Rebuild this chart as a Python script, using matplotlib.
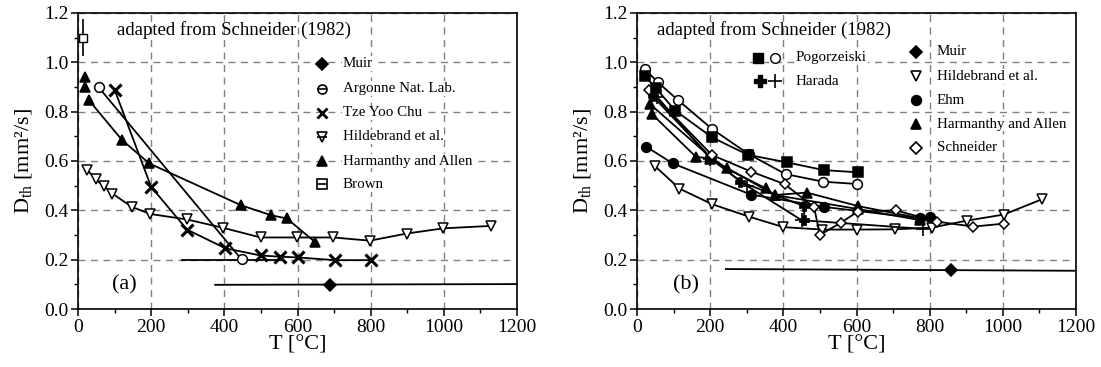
import matplotlib.pyplot as plt
from matplotlib.ticker import MultipleLocator

plt.rcParams["font.family"] = ["Liberation Serif", "DejaVu Serif"]
plt.rcParams["mathtext.fontset"] = "custom"
plt.rcParams["mathtext.rm"] = "Liberation Serif"

# -------------------------
# Panel (a) data
# -------------------------
a_muir_range = [375, 1200]
a_muir_range_y = [0.098, 0.101]
a_muir_x = [688]
a_muir_y = [0.097]

a_argonne_x = [57, 447]
a_argonne_y = [0.898, 0.201]
a_argonne_range = [284, 555]
a_argonne_range_y = [0.200, 0.200]

a_tze_x = [100, 200, 298, 403, 499, 552, 601, 702, 800]
a_tze_y = [0.889, 0.495, 0.322, 0.246, 0.217, 0.212, 0.209, 0.198, 0.198]

a_hild_x = [25, 48, 71, 94, 147, 198, 298, 397, 499, 598, 698, 798, 899, 999, 1130]
a_hild_y = [0.565, 0.525, 0.498, 0.468, 0.414, 0.385, 0.363, 0.329, 0.29,
            0.29, 0.29, 0.277, 0.306, 0.327, 0.337]

a_harm_single_x = [20, 20]
a_harm_single_y = [0.94, 0.90]
a_harm_x = [30, 121, 195, 445, 528, 571, 649]
a_harm_y = [0.846, 0.684, 0.59, 0.421, 0.38, 0.367, 0.27]

a_brown_x = [15]
a_brown_y = [1.10]
a_brown_err = [0.075]

a_legend_labels = ["Muir", "Argonne Nat. Lab.", "Tze Yoo Chu",
                   "Hildebrand et al.", "Harmanthy and Allen", "Brown"]
a_legend_y = [0.995, 0.893, 0.795, 0.698, 0.599, 0.505]

# -------------------------
# Panel (b) data
# -------------------------
b_pog_sq_x = [21, 52, 105, 205, 303, 411, 511, 605]
b_pog_sq_y = [0.945, 0.894, 0.804, 0.696, 0.625, 0.594, 0.563, 0.554]
b_pog_ci_x = [21, 57, 112, 205, 305, 406, 509, 600]
b_pog_ci_y = [0.973, 0.919, 0.847, 0.73, 0.628, 0.547, 0.516, 0.507]

b_harada_x = [43, 200, 282, 457, 457]
b_harada_y = [0.863, 0.617, 0.516, 0.417, 0.36]
b_harada2_x = [55, 200, 300, 450, 781]
b_harada2_y = [0.86, 0.61, 0.50, 0.36, 0.325]

b_schn_x = [32, 205, 312, 404, 484, 500, 557, 604, 707, 821, 919, 1003]
b_schn_y = [0.888, 0.624, 0.557, 0.506, 0.413, 0.30, 0.35, 0.395, 0.40,
            0.354, 0.334, 0.346]

b_harm1_x = [36, 200, 245, 352, 377, 464, 605, 774]
b_harm1_y = [0.83, 0.617, 0.57, 0.489, 0.462, 0.472, 0.417, 0.368]
b_harm2_x = [41, 161, 200, 377, 605, 774]
b_harm2_y = [0.79, 0.617, 0.61, 0.462, 0.405, 0.36]

b_ehm_x = [25, 98, 311, 511, 774, 801]
b_ehm_y = [0.658, 0.59, 0.464, 0.414, 0.367, 0.374]

b_hild_x = [50, 116, 205, 307, 400, 505, 602, 705, 806, 901, 1003, 1107]
b_hild_y = [0.578, 0.488, 0.425, 0.374, 0.332, 0.322, 0.322, 0.323, 0.33,
            0.358, 0.383, 0.445]

b_muir_range = [243, 1200]
b_muir_range_y = [0.162, 0.155]
b_muir_x = [858]
b_muir_y = [0.157]

b_legend_labels = ["Muir", "Hildebrand et al.", "Ehm",
                   "Harmanthy and Allen", "Schneider"]
b_legend_y = [1.042, 0.943, 0.846, 0.749, 0.653]

# -------------------------
# Figure
# -------------------------
fig = plt.figure(figsize=(11.01, 3.67), dpi=100)
ax_a = fig.add_axes([78 / 1101, 58 / 367, 439 / 1101, 296 / 367])
ax_b = fig.add_axes([637 / 1101, 58 / 367, 439 / 1101, 296 / 367])

LW = 1.3
MS = 6.5


def style_axes(ax):
    ax.set_xlim(0, 1200)
    ax.set_ylim(0, 1.2)
    ax.xaxis.set_major_locator(MultipleLocator(200))
    ax.xaxis.set_minor_locator(MultipleLocator(100))
    ax.yaxis.set_major_locator(MultipleLocator(0.2))
    ax.yaxis.set_minor_locator(MultipleLocator(0.1))
    ax.yaxis.set_major_formatter(lambda v, p: f"{v:.1f}")
    ax.tick_params(which="major", direction="out", length=5, width=1.1,
                   labelsize=14, pad=2)
    ax.tick_params(which="minor", direction="out", length=3, width=1.0)
    ax.grid(True, which="major", color="#808080", linestyle=(0, (5, 4)),
            linewidth=1.0)
    ax.set_axisbelow(True)
    for s in ax.spines.values():
        s.set_linewidth(1.2)
    ax.set_xlabel("T [°C]", fontsize=16, labelpad=0)
    ax.set_ylabel(r"D$_\mathregular{th}$ [mm²/s]", fontsize=16, labelpad=6)


def line(ax, x, y, marker, filled, ms=MS, mew=1.1, ls="-"):
    ax.plot(x, y, ls, color="black", linewidth=LW, marker=marker,
            markersize=ms, markeredgewidth=mew, markeredgecolor="black",
            markerfacecolor="black" if filled else "white", zorder=3)


# ---- panel (a)
style_axes(ax_a)
ax_a.plot(a_muir_range, a_muir_range_y, color="black", linewidth=LW)
line(ax_a, a_muir_x, a_muir_y, "D", True, ms=6, ls="none")
ax_a.plot(a_argonne_range, a_argonne_range_y, color="black", linewidth=LW)
line(ax_a, a_argonne_x, a_argonne_y, "o", False, ms=7, ls="none")
line(ax_a, a_tze_x, a_tze_y, "x", True, ms=8.5, mew=2.2)
line(ax_a, a_hild_x, a_hild_y, "v", False, ms=7)
line(ax_a, a_harm_single_x, a_harm_single_y, "^", True, ms=7, ls="none")
line(ax_a, a_harm_x, a_harm_y, "^", True, ms=7)
ax_a.errorbar(a_brown_x, a_brown_y, yerr=a_brown_err, fmt="s", color="black",
              markerfacecolor="white", markersize=6, elinewidth=1.2,
              capsize=0, zorder=3)

ax_a.text(107, 1.13, "adapted from Schneider (1982)", fontsize=13.5,
          va="center", ha="left")
ax_a.text(93, 0.097, "(a)", fontsize=16, va="center", ha="left")

a_legend_markers = [("D", True), ("o", False), ("x", True), ("v", False),
                    ("^", True), ("s", False)]
for (m, f), lab, ly in zip(a_legend_markers, a_legend_labels, a_legend_y):
    ax_a.plot([668], [ly], marker=m, ls="none", markersize=6.5,
              markeredgewidth=2.0 if m == "x" else 1.2, color="black",
              markerfacecolor="black" if f else "white", zorder=4)
    if lab in ("Argonne Nat. Lab.", "Hildebrand et al.", "Brown"):
        ax_a.plot([668], [ly], marker="_", ls="none", markersize=6.5,
                  markeredgewidth=1.2, color="black", zorder=5)
    ax_a.text(724, ly, lab, fontsize=10.8, va="center", ha="left",
              bbox=dict(facecolor="white", edgecolor="none", pad=0.5))

# ---- panel (b)
style_axes(ax_b)
ax_b.plot(b_muir_range, b_muir_range_y, color="black", linewidth=LW)
line(ax_b, b_muir_x, b_muir_y, "D", True, ms=6, ls="none")
line(ax_b, b_hild_x, b_hild_y, "v", False, ms=7)
line(ax_b, b_ehm_x, b_ehm_y, "o", True, ms=7)
line(ax_b, b_harm2_x, b_harm2_y, "^", True, ms=7)
line(ax_b, b_harm1_x, b_harm1_y, "^", True, ms=7)
line(ax_b, b_harada2_x, b_harada2_y, "+", True, ms=10, mew=1.2)
line(ax_b, b_harada_x, b_harada_y, "P", True, ms=7, mew=0.5)
line(ax_b, b_schn_x, b_schn_y, "D", False, ms=5.5)
line(ax_b, b_pog_ci_x, b_pog_ci_y, "o", False, ms=7)
line(ax_b, b_pog_sq_x, b_pog_sq_y, "s", True, ms=7)

ax_b.text(56, 1.13, "adapted from Schneider (1982)", fontsize=13.5,
          va="center", ha="left")
ax_b.text(98, 0.097, "(b)", fontsize=16, va="center", ha="left")

# Pogorzeiski / Harada legend
ax_b.plot([331], [1.019], marker="s", ls="none", markersize=7,
          color="black", zorder=4)
ax_b.plot([377], [1.019], marker="o", ls="none", markersize=7,
          color="black", markerfacecolor="white", zorder=4)
ax_b.text(434, 1.019, "Pogorzeiski", fontsize=10.8, va="center", ha="left",
          bbox=dict(facecolor="white", edgecolor="none", pad=0.5))
ax_b.plot([336], [0.923], marker="P", ls="none", markersize=8,
          color="black", zorder=4)
ax_b.plot([377], [0.923], marker="+", ls="none", markersize=10,
          markeredgewidth=1.2, color="black", zorder=4)
ax_b.text(434, 0.923, "Harada", fontsize=10.8, va="center", ha="left")

b_legend_markers = [("D", True), ("v", False), ("o", True), ("^", True),
                    ("D", False)]
for (m, f), lab, ly in zip(b_legend_markers, b_legend_labels, b_legend_y):
    ax_b.plot([762], [ly], marker=m, ls="none",
              markersize=6 if m == "D" else 7, markeredgewidth=1.2,
              color="black", markerfacecolor="black" if f else "white",
              zorder=4)
    ax_b.text(819, ly, lab, fontsize=10.8, va="center", ha="left",
              bbox=dict(facecolor="white", edgecolor="none", pad=0.5))

plt.savefig("out.png", dpi=100)
